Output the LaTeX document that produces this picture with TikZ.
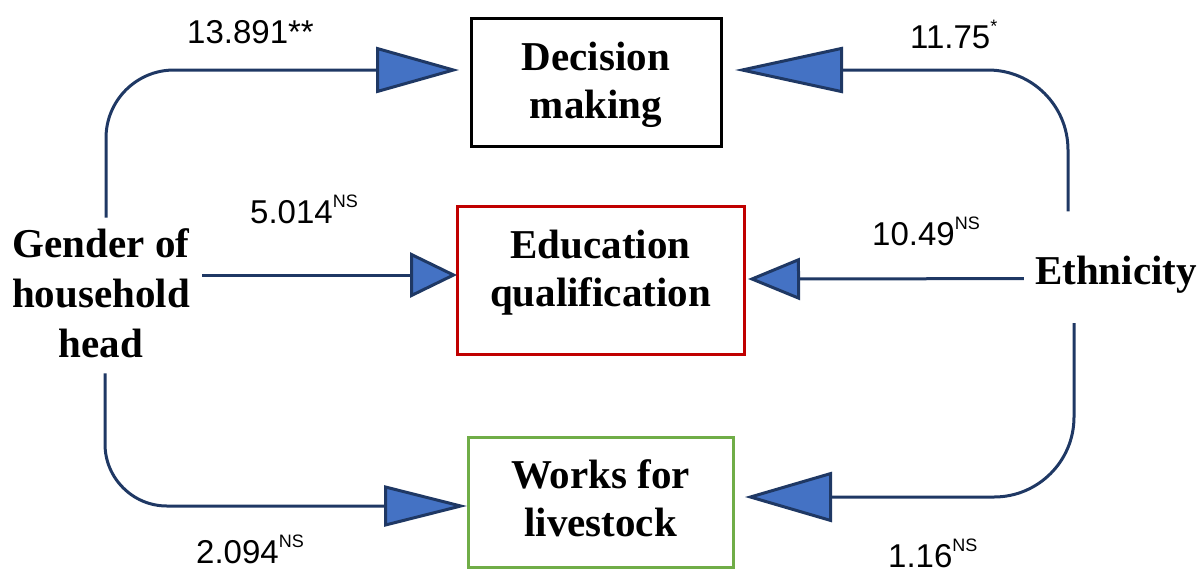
\documentclass[tikz,border=0pt]{standalone}
\usepackage{fontspec}
\setmainfont{Liberation Serif}
\setsansfont{Liberation Sans}
\usetikzlibrary{arrows.meta, positioning}

\definecolor{navy}{HTML}{1F3864}
\definecolor{tipblue}{HTML}{4472C4}
\definecolor{boxred}{HTML}{C00000}
\definecolor{boxgreen}{HTML}{70AD47}

% small raised marks after the coefficients
\newcommand{\sig}[1]{\raisebox{16pt}{\fontsize{18}{18}\selectfont #1}}

\begin{document}
\begin{tikzpicture}[x=1pt, y=-1pt, on grid,
    var/.style={font=\bfseries\fontsize{41}{50}\selectfont, align=center, inner sep=0pt},
    box/.style={draw=#1, line width=3pt, outer sep=0pt, inner sep=0pt,
        font=\bfseries\fontsize{41}{48}\selectfont, align=center},
    coef/.style={font=\sffamily\fontsize{33}{33}\selectfont, inner sep=0pt, anchor=base west},
    link/.style={draw=navy, line width=3pt, rounded corners=#1},
    link/.default=0pt,
    tip/.style 2 args={-{Triangle[length=#1pt, width=#2pt, fill=tipblue]}}]
    \useasboundingbox (0,0) rectangle (1201,574);

    % outcomes
    \node[box=boxred, minimum width=287pt, minimum height=148pt, text depth=24pt] (edu) at (600.5,280) {Education\\qualification};
    \node[box=black, minimum width=250pt, minimum height=128pt, text depth=4pt] (dm) [above=198pt of edu, xshift=-4.5pt] {Decision\\making};
    \node[box=boxgreen, minimum width=265pt, minimum height=130pt, text depth=8pt] (work) [below=222pt of edu] {Works for\\livestock};

    % explanatory variables
    \node[var] (gender) at (101,293.5) {Gender of\\household\\head};
    \node[var, anchor=base] (eth) at (1116,284) {Ethnicity};

    % gender of household head
    \draw[link=68pt, tip={83}{46}] ([xshift=5pt, yshift=11pt]gender.north) |- ([shift={(-12,-12)}]dm.west);
    \draw[link, tip={47}{45}] ([xshift=12pt, yshift=18.5pt]gender.east) -- ([shift={(0,-5)}]edu.west);
    \draw[link=62pt, tip={83}{41}] ([xshift=4pt, yshift=-15pt]gender.south) |- ([shift={(-1,4)}]work.west);

    % ethnicity
    \draw[link=80pt, tip={108}{46}] ([xshift=-48pt, yshift=44pt]eth.north) |- ([shift={(14,-12)}]dm.east);
    \draw[link, tip={52}{42}] ([xshift=-11pt, yshift=-4.4pt]eth.west) -- ([shift={(4,-1)}]edu.east);
    \draw[link=80pt, tip={87}{50}] ([xshift=-42pt, yshift=-30pt]eth.south) |- ([shift={(12,-5)}]work.east);

    % coefficients
    \node[coef] (g-dm) at (187,43) {13.891**};
    \node[coef] (g-edu) at (250,223) {5.014\sig{NS}};
    \node[coef] (g-work) at (196,563) {2.094\sig{NS}};
    \node[coef] (e-dm) at (910,48) {11.75\sig{*}};
    \node[coef] (e-edu) at (872,245) {10.49\sig{NS}};
    \node[coef] (e-work) at (888,567) {1.16\sig{NS}};
\end{tikzpicture}
\end{document}
